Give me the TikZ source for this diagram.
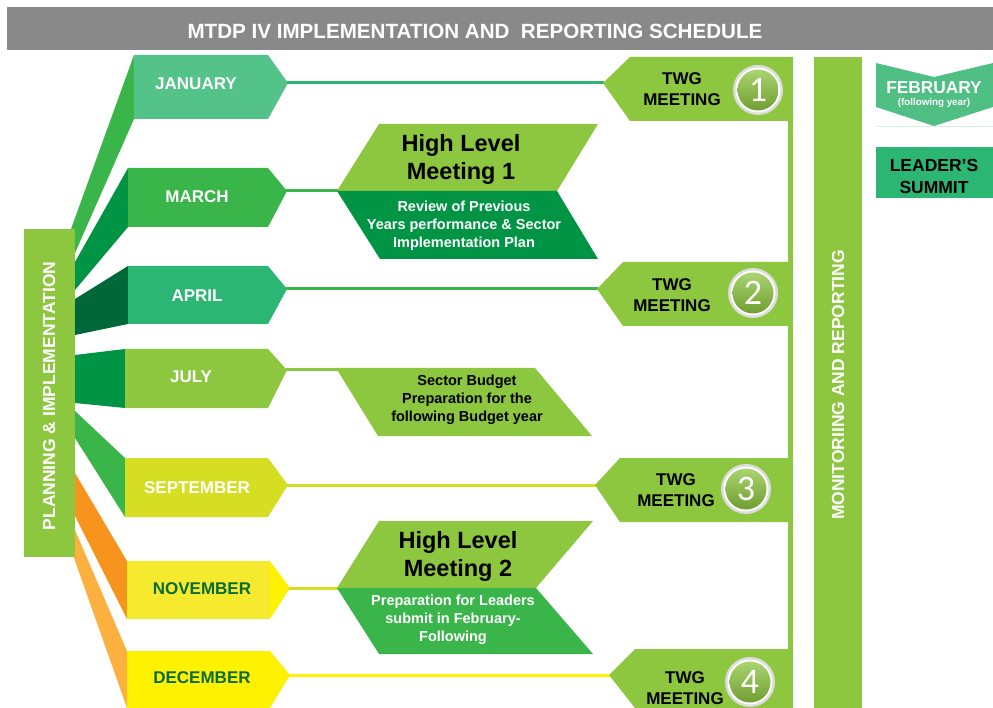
\documentclass[tikz,border=0pt]{standalone}
\usepackage{fontspec}
\setmainfont{Liberation Sans}
\newfontfamily\numfont{Carlito}

\definecolor{titlegray}{HTML}{898989}
\definecolor{lgreen}{HTML}{8DC63F}
\definecolor{jancol}{HTML}{53C38A}
\definecolor{midgreen}{HTML}{3AB54A}
\definecolor{tealgreen}{HTML}{2BB673}
\definecolor{dkgreen}{HTML}{009444}
\definecolor{dkdkgreen}{HTML}{006838}
\definecolor{septcol}{HTML}{D6DE23}
\definecolor{novbody}{HTML}{F5EA2E}
\definecolor{brightyellow}{HTML}{FFF200}
\definecolor{orangecol}{HTML}{F7941D}
\definecolor{lorange}{HTML}{FBB040}
\definecolor{febcol}{HTML}{4FBF84}
\definecolor{febline}{HTML}{D8EFE2}
\definecolor{txtgreen}{HTML}{0A6B38}
\definecolor{ringgray}{HTML}{DCDCDC}

\newcommand\fsz[2]{\fontsize{#1}{#2}\selectfont\bfseries}

% numbered disc on a TWG banner: name, centre, digit
\newcommand\twgdisc[3]{%
  \fill[ringgray] #2 circle (25);
  \fill[white] #2 circle (22.5);
  \shade[top color=lgreen!75!white, bottom color=lgreen!80!black] #2 circle (20.5);
  \node[numlbl] (#1) at #2 {#3};
}

\begin{document}
\begin{tikzpicture}[x=1pt,y=-1pt,
  monthlbl/.style={inner sep=0pt, text=white, font=\fsz{17}{20}},
  twglbl/.style={inner sep=0pt, align=center, text=black, font=\fsz{17}{21}},
  hltitle/.style={inner sep=0pt, align=center, text=black, font=\fsz{23.5}{28}},
  hlsub/.style={inner sep=0pt, align=center, font=\fsz{14.5}{18}},
  numlbl/.style={inner sep=0pt, text=white, font=\numfont\fontsize{36}{36}\selectfont},
  barlbl/.style={inner sep=0pt, text=white, rotate=90, font=\fsz{17.5}{20}},
  conn/.style={line width=3pt},
]
\useasboundingbox (0,0) rectangle (993,708);

% ---------- title bar ----------
\fill[titlegray] (7,7) rectangle (993,50);
\node[inner sep=0pt, text=white, font=\fsz{20.6}{24}] (title) at (475,31)
  {MTDP IV IMPLEMENTATION AND\ \ REPORTING SCHEDULE};

% ---------- fan bands from the planning bar ----------
\fill[midgreen]  (134,55)  -- (134,119) -- (75,253) -- (71,229) -- cycle;
\fill[dkgreen]   (128,168) -- (128,227) -- (75,290) -- (75,262) -- cycle;
\fill[dkdkgreen] (128,266) -- (128,324) -- (75,335) -- (75,299) -- cycle;
\fill[dkgreen]   (125,349) -- (125,408) -- (75,403) -- (75,355) -- cycle;
\fill[midgreen]  (125,458) -- (125,517) -- (75,438) -- (75,411) -- cycle;
\fill[orangecol] (127,561) -- (127,619) -- (75,516) -- (75,473) -- cycle;
\fill[lorange]   (127,651) -- (127,708) -- (74,558) -- (75,530) -- cycle;

% planning bar
\fill[lgreen] (24,229) rectangle (75,557);
\node[barlbl] (plan) at (49,396) {PLANNING \& IMPLEMENTATION};

% ---------- month banners ----------
\fill[jancol]    (134,55)  -- (268,55)  -- (288,83)  -- (268,119) -- (134,119) -- cycle;
\fill[midgreen]  (128,168) -- (268,168) -- (287,191) -- (268,227) -- (128,227) -- cycle;
\fill[tealgreen] (128,266) -- (268,266) -- (287,289) -- (268,324) -- (128,324) -- cycle;
\fill[lgreen]    (125,349) -- (268,349) -- (287,370) -- (268,408) -- (125,408) -- cycle;
\fill[septcol]   (125,458) -- (268,458) -- (288,485) -- (268,517) -- (125,517) -- cycle;
\fill[novbody]   (127,561) -- (270,561) -- (270,619) -- (127,619) -- cycle;
\fill[brightyellow] (270,561) -- (290,588) -- (270,619) -- cycle;
\fill[brightyellow] (127,651) -- (270,651) -- (290,675) -- (270,708) -- (127,708) -- cycle;

\node[monthlbl] (jan) at (196,84)  {JANUARY};
\node[monthlbl] (mar) at (197,197) {MARCH};
\node[monthlbl] (apr) at (197,296) {APRIL};
\node[monthlbl] (jul) at (191,377) {JULY};
\node[monthlbl] (sep) at (197,488) {SEPTEMBER};
\node[monthlbl, text=txtgreen] (nov) at (202,589) {NOVEMBER};
\node[monthlbl, text=txtgreen] (dec) at (202,678) {DECEMBER};

% banner tips and meeting entry points
\coordinate (jan-tip) at (287,83);
\coordinate (mar-tip) at (286,191);
\coordinate (apr-tip) at (286,289);
\coordinate (jul-tip) at (286,370);
\coordinate (sep-tip) at (287,485);
\coordinate (nov-tip) at (289,588);
\coordinate (dec-tip) at (289,675);

\coordinate (twg1-tip) at (604,83);
\coordinate (twg2-tip) at (598,289);
\coordinate (twg3-tip) at (596,485);
\coordinate (twg4-tip) at (610,675);
\coordinate (hl1-tip) at (338,191);
\coordinate (sb-tip) at (338,370);
\coordinate (hl2-tip) at (338,588);

% ---------- connectors ----------
\draw[conn, tealgreen] (jan-tip) -- (twg1-tip);
\draw[conn, midgreen]  (mar-tip) -- (hl1-tip);
\draw[conn, midgreen]  (apr-tip) -- (twg2-tip);
\draw[conn, lgreen]    (jul-tip) -- (sb-tip);
\draw[conn, septcol]   (sep-tip) -- (twg3-tip);
\draw[conn, septcol]   (nov-tip) -- (hl2-tip);
\draw[conn, brightyellow] (dec-tip) -- (twg4-tip);

% ---------- TWG banners and their spine ----------
\fill[lgreen] (788,57) rectangle (793,708);
\fill[lgreen] (603,83)  -- (630,57)  -- (793,57)  -- (793,121) -- (630,121) -- cycle;
\fill[lgreen] (597,289) -- (623,262) -- (793,262) -- (793,326) -- (623,326) -- cycle;
\fill[lgreen] (595,485) -- (620,458) -- (793,458) -- (793,522) -- (620,522) -- cycle;
\fill[lgreen] (609,675) -- (635,649) -- (793,649) -- (793,708) -- (635,708) -- (609,675) -- cycle;

\node[twglbl] (twg1) at (682,89)  {TWG\\MEETING};
\node[twglbl] (twg2) at (672,295) {TWG\\MEETING};
\node[twglbl] (twg3) at (676,490) {TWG\\MEETING};
\node[twglbl] (twg4) at (685,688) {TWG\\MEETING};

\twgdisc{n1}{(758,90)}{1}
\twgdisc{n2}{(753,293)}{2}
\twgdisc{n3}{(746,489)}{3}
\twgdisc{n4}{(750,682)}{4}

% ---------- high level meeting 1 ----------
\fill[lgreen]  (379,124) -- (598,124) -- (557,191) -- (337,191) -- cycle;
\fill[dkgreen] (337,191) -- (557,191) -- (598,259) -- (380,259) -- cycle;
\node[hltitle] (hl1) at (461,159) {High Level\\Meeting 1};
\node[hlsub, text=white] (hl1sub) at (464,226)
  {Review of Previous\\Years performance \& Sector\\Implementation Plan};

% ---------- sector budget ----------
\fill[lgreen] (336,368) -- (535,368) -- (592,436) -- (378,436) -- cycle;
\node[hlsub, text=black] (sb) at (467,400)
  {Sector Budget\\Preparation for the\\following Budget year};

% ---------- high level meeting 2 ----------
\fill[lgreen]   (379,521) -- (593,521) -- (536,588) -- (337,588) -- cycle;
\fill[midgreen] (337,588) -- (536,588) -- (593,654) -- (379,654) -- cycle;
\node[hltitle] (hl2) at (458,556) {High Level\\Meeting 2};
\node[hlsub, text=white] (hl2sub) at (453,620)
  {Preparation for Leaders\\submit in February-\\Following};

% ---------- monitoring bar ----------
\fill[lgreen] (814,57) rectangle (862,708);
\node[barlbl] (mon) at (838,385) {MONITORIING AND REPORTING};

% ---------- February / leader's summit ----------
\fill[febcol] (876,63) -- (934,77) -- (993,63) -- (993,107) -- (934,126) -- (876,107) -- cycle;
\draw[febline, line width=1pt] (876,127) -- (993,127);
\node[inner sep=0pt, text=white, font=\fsz{17.3}{20}] (feb) at (934,88) {FEBRUARY};
\node[inner sep=0pt, text=white, font=\fsz{9.8}{12}] (febsub) at (934,103) {(following year)};

\fill[tealgreen] (876,147) rectangle (993,198);
\node[inner sep=0pt, align=center, text=black, font=\fsz{17.5}{22}] (leader) at (934,176)
  {LEADER’S\\SUMMIT};
\end{tikzpicture}
\end{document}
